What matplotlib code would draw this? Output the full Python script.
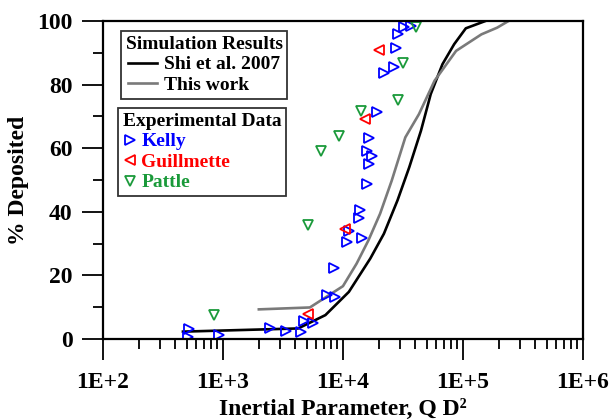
import math
import matplotlib
matplotlib.use("Agg")
import matplotlib.pyplot as plt
from matplotlib.ticker import FixedLocator, FuncFormatter, LogLocator, NullFormatter

plt.rcParams['font.family'] = ['Liberation Serif', 'DejaVu Serif']
plt.rcParams['font.weight'] = 'bold'

# simulation curves
shi_x = [464, 4230, 5500, 7140, 11200, 16900, 21950, 28500, 35700, 44700, 53900, 67500, 84500, 105700, 154000]
shi_y = [2.3, 3.3, 5.4, 7.5, 14.8, 25.3, 33.1, 43.6, 54.0, 65.5, 77.0, 86.4, 92.7, 97.7, 100]
this_x = [1990, 5300, 10000, 13000, 16300, 20400, 25500, 33100, 43000, 58000, 87700, 142600, 192800, 240000]
this_y = [9.3, 9.9, 16.6, 23.7, 31.0, 39.4, 49.8, 63.4, 70.7, 81.2, 90.6, 95.8, 97.9, 100]

# experimental data
kelly_x = [519, 508, 925, 2450, 3330, 4490, 4730, 5620, 7420, 8610, 8420, 10800, 11200, 14550,
           13700, 14000, 15900, 16600, 17500, 15900, 16400, 19200, 21950, 26500, 27500, 28500, 32400, 37100]
kelly_y = [3.0, 0.5, 1.3, 3.3, 2.6, 2.3, 5.7, 4.9, 13.8, 13.3, 22.2, 30.5, 33.9, 31.8,
           38.1, 40.6, 48.8, 54.9, 57.5, 59.0, 63.2, 71.5, 83.5, 85.4, 91.4, 95.8, 98.1, 98.4]
guill_x = [5090, 10400, 15400, 19900]
guill_y = [8.0, 34.7, 69.2, 90.8]
pattle_x = [845, 5090, 6620, 9270, 14200, 28500, 31900, 40800]
pattle_y = [7.5, 35.7, 59.0, 63.9, 71.8, 75.2, 86.7, 98.1]

fig = plt.figure(figsize=(6.11, 4.2), dpi=100)
ax = fig.add_axes([0.1686, 0.193, 0.7854, 0.757])

l1, = ax.plot(shi_x, shi_y, color='black', lw=1.9, label='Shi et al. 2007')
l2, = ax.plot(this_x, this_y, color='#7a7a7a', lw=1.9, label='This work')

mk = dict(linestyle='none', markerfacecolor='none', markersize=6.5, markeredgewidth=1.3)
k, = ax.plot(kelly_x, kelly_y, marker='>', color='#0000ff', label='Kelly', **mk)
g, = ax.plot(guill_x, guill_y, marker='<', color='#ff0000', label='Guillmette', **mk)
p, = ax.plot(pattle_x, pattle_y, marker='v', color='#1a9a3a', label='Pattle', **mk)

ax.set_xscale('log')
ax.set_xlim(1e2, 1e6)
ax.set_ylim(0, 100)
ax.xaxis.set_major_locator(LogLocator(base=10, numticks=10))
ax.xaxis.set_minor_locator(LogLocator(base=10, subs=range(2, 10), numticks=50))
ax.xaxis.set_minor_formatter(NullFormatter())
ax.xaxis.set_major_formatter(FuncFormatter(lambda v, pos: '1E+%d' % round(math.log10(v))))
ax.yaxis.set_major_locator(FixedLocator([0, 20, 40, 60, 80, 100]))
ax.yaxis.set_minor_locator(FixedLocator([10, 30, 50, 70, 90]))

ax.tick_params(which='major', direction='out', length=15, width=1.3, labelsize=17)
ax.tick_params(axis='x', which='major', pad=9)
ax.tick_params(axis='y', which='major', pad=7)
ax.tick_params(which='minor', direction='out', length=7.5, width=1.3)
ax.tick_params(top=False, right=False)
for s in ax.spines.values():
    s.set_linewidth(1.6)

ax.set_xlabel('Inertial Parameter, Q D\u00b2', fontsize=17, fontweight='bold', labelpad=4)
ax.set_ylabel('% Deposited', fontsize=17, fontweight='bold', labelpad=6)

leg1 = ax.legend(handles=[l1, l2], title='Simulation Results', loc='upper left',
                 bbox_to_anchor=(0.1975, 0.926), bbox_transform=fig.transFigure,
                 fontsize=14, title_fontsize=14, frameon=True, fancybox=False,
                 edgecolor='black', handlelength=1.5, handletextpad=0.35,
                 labelspacing=0.15, borderpad=0.25, borderaxespad=0)
leg1.get_frame().set_linewidth(1.3)
leg1.get_title().set_fontweight('bold')
ax.add_artist(leg1)

leg2 = ax.legend(handles=[k, g, p], title='Experimental Data', loc='upper left',
                 bbox_to_anchor=(0.193, 0.743), bbox_transform=fig.transFigure,
                 fontsize=14, title_fontsize=14, frameon=True, fancybox=False,
                 edgecolor='black', handlelength=0.7, handletextpad=0.25,
                 labelspacing=0.15, borderpad=0.25, borderaxespad=0, alignment='left')
leg2.get_frame().set_linewidth(1.3)
leg2.get_title().set_fontweight('bold')
for t, c in zip(leg2.get_texts(), ['#0000ff', '#ff0000', '#1a9a3a']):
    t.set_color(c)

fig.savefig('out.png', dpi=100)
